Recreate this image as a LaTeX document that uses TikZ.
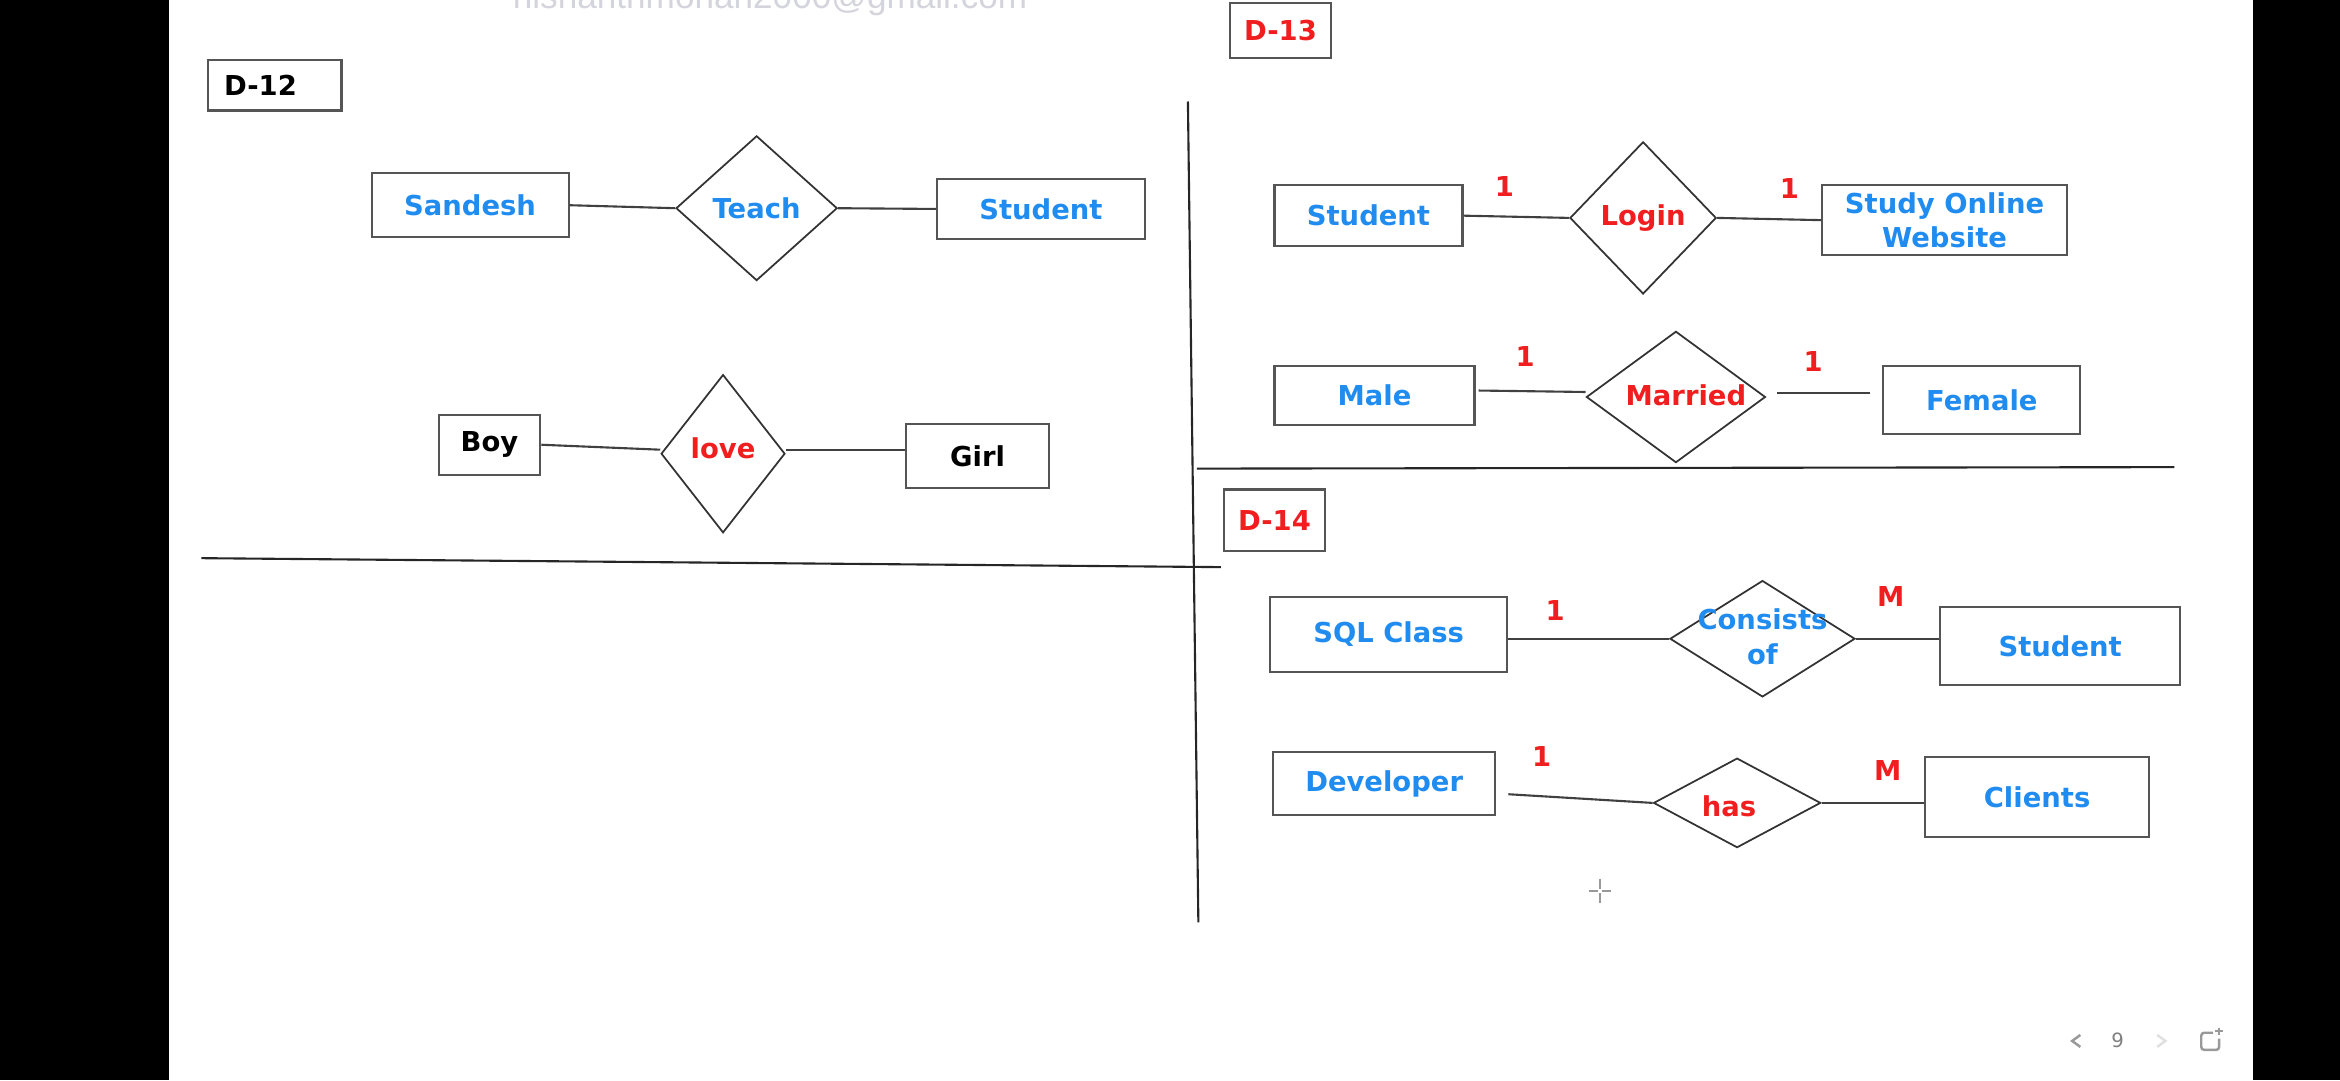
\documentclass[tikz,border=0pt]{standalone}
\usepackage{fontspec}
\setmainfont{DejaVu Sans}
\newfontfamily\wmfont{Liberation Sans}
\usetikzlibrary{shapes,positioning}
\definecolor{erblue}{RGB}{33,140,240}
\definecolor{erred}{RGB}{240,30,30}
\definecolor{boxgray}{RGB}{85,85,85}
\definecolor{wmgray}{RGB}{212,212,220}
\newcommand{\upx}{0.014923cm}

\begin{document}
\begin{tikzpicture}[x=\upx,y=-\upx,
  every node/.style={font=\bfseries\fontsize{7.8}{9.7}\selectfont},
  entity/.style={draw=boxgray, line width=0.6pt, rectangle, inner sep=0pt, text=erblue},
  rel/.style={draw=black!80, line width=0.5pt, diamond, inner sep=0pt},
  link/.style={draw=black!75, line width=0.6pt},
  sepline/.style={draw=black!85, line width=0.6pt},
  card/.style={text=erred},
  uigray/.style={draw=black!40, line width=0.5pt}]
\clip (0,0) rectangle (1568,724);
\fill[black] (0,0) rectangle (113,724);
\fill[black] (1510,0) rectangle (1568,724);
\node[font=\wmfont\fontsize{10}{12}\selectfont, text=wmgray, anchor=base] (mail) at (516,6) {nishanthmohan2000@gmail.com};
% D-12
\node[entity, text=black, align=left, text width=1.01cm, inner xsep=0.164cm, minimum height=34*\upx] (d12) at (184,57) {D-12};
\node[entity, minimum width=132*\upx, minimum height=43*\upx] (sandesh) at (315,137.5) {Sandesh};
\node[rel, minimum width=108*\upx, minimum height=97*\upx, label={[text=erblue]center:Teach}] (teach) at (507,139.5) {};
\node[entity, minimum width=139*\upx, minimum height=40*\upx] (student1) at (697.5,140) {Student};
\node[entity, text=black, minimum width=68*\upx, minimum height=40*\upx] (boy) at (328,298) {Boy};
\node[rel, minimum width=83*\upx, minimum height=106*\upx, label={[text=erred, yshift=0.05cm]center:love}] (love) at (484.5,304) {};
\node[entity, text=black, minimum width=96*\upx, minimum height=43*\upx] (girl) at (655,305.5) {Girl};
\path[link] (sandesh.east) -- (teach.west);
\path[link] (teach.east) -- (student1.west);
\path[link] (boy.east) -- ([yshift=0.04cm]love.west);
\path[link] ([yshift=0.04cm]love.east) -- ([yshift=0.04cm]love.east -| girl.west);
% D-13
\node[entity, text=erred, minimum width=68*\upx, minimum height=37*\upx] (d13) at (858,20.5) {D-13};
\node[entity, minimum width=126*\upx, minimum height=41*\upx] (student2) at (917,144.5) {Student};
\node[rel, minimum width=98*\upx, minimum height=102*\upx, label={[text=erred]center:Login}] (login) at (1101,146) {};
\node[entity, align=center, minimum width=164*\upx, minimum height=47*\upx] (website) at (1303,147.5) {Study Online\\Website};
\node[entity, minimum width=134*\upx, minimum height=40*\upx] (male) at (921,265) {Male};
\node[rel, minimum width=120*\upx, minimum height=88*\upx, label={[text=erred, xshift=0.1cm, yshift=0.02cm]center:Married}] (married) at (1123,266) {};
\node[entity, minimum width=132*\upx, minimum height=46*\upx] (female) at (1328,268) {Female};
\node[card] (c1) at (1008,125) {1};
\node[card] (c2) at (1199,126) {1};
\node[card] (c3) at (1022,239) {1};
\node[card] (c4) at (1215,242) {1};
\path[link] (student2.east) -- (login.west);
\path[link] (login.east) -- (website.west);
\path[link, shorten <=0.03cm] ([yshift=0.05cm]male.east) -- ([yshift=0.05cm]married.west);
\path[link, shorten <=0.105cm, shorten >=0.12cm] ([yshift=0.04cm]married.east) -- ([yshift=0.04cm]married.east -| female.west);
% D-14
\node[entity, text=erred, minimum width=68*\upx, minimum height=41*\upx] (d14) at (854,348.5) {D-14};
\node[entity, minimum width=159*\upx, minimum height=50*\upx] (sqlclass) at (930.5,425) {SQL Class};
\node[rel, minimum width=124*\upx, minimum height=78*\upx, label={[text=erblue, align=center, yshift=0.02cm]center:Consists\\of}] (consists) at (1181,428) {};
\node[entity, minimum width=161*\upx, minimum height=52*\upx] (student3) at (1380.5,433) {Student};
\node[entity, minimum width=149*\upx, minimum height=42*\upx] (developer) at (927.5,525) {Developer};
\node[rel, minimum width=112*\upx, minimum height=60*\upx, label={[text=erred, xshift=-0.08cm, yshift=-0.03cm]center:has}] (has) at (1164,538) {};
\node[entity, minimum width=150*\upx, minimum height=54*\upx] (clients) at (1365,534) {Clients};
\node[card] (c5) at (1042,409) {1};
\node[card] (c6) at (1267,400) {M};
\node[card] (c7) at (1033,507) {1};
\node[card] (c8) at (1265,516) {M};
\path[link] (consists.west -| sqlclass.east) -- (consists.west);
\path[link] (consists.east) -- (consists.east -| student3.west);
\path[link, shorten <=0.12cm] ([yshift=-0.1cm]developer.east) -- (has.west);
\path[link] (has.east) -- (has.east -| clients.west);
% section lines
\coordinate (vtop) at (796,68);
\coordinate (vbot) at (803,618);
\coordinate (hlw) at (135,374);
\coordinate (hle) at (818,380);
\coordinate (hrw) at (802,314);
\coordinate (hre) at (1457,313);
\path[sepline] (vtop) -- (vbot);
\path[sepline] (hlw) -- (hle);
\path[sepline] (hrw) -- (hre);
% cursor and page bar
\coordinate (cur) at (1072,597);
\draw[uigray, line width=0.4pt] ([xshift=-0.11cm]cur) -- ([xshift=-0.02cm]cur) ([xshift=0.02cm]cur) -- ([xshift=0.11cm]cur);
\draw[uigray, line width=0.4pt] ([yshift=0.12cm]cur) -- ([yshift=0.02cm]cur) ([yshift=-0.02cm]cur) -- ([yshift=-0.12cm]cur);
\draw[uigray, line width=0.7pt] (1394,693.5) -- (1388.5,697.5) -- (1394,701.5);
\node[font=\fontsize{5.6}{6}\selectfont, text=black!50] (page) at (1419,697) {9};
\draw[uigray, draw=black!12, line width=0.7pt] (1445.5,693.5) -- (1451,697.5) -- (1445.5,701.5);
\draw[uigray, line width=0.7pt, rounded corners=0.03cm] (1483,692) -- (1475,692) -- (1475,703.5) -- (1487,703.5) -- (1487,696);
\draw[uigray, line width=0.7pt] (1484.5,691) -- (1489.5,691) (1487,688.5) -- (1487,693.5);
\end{tikzpicture}
\end{document}
